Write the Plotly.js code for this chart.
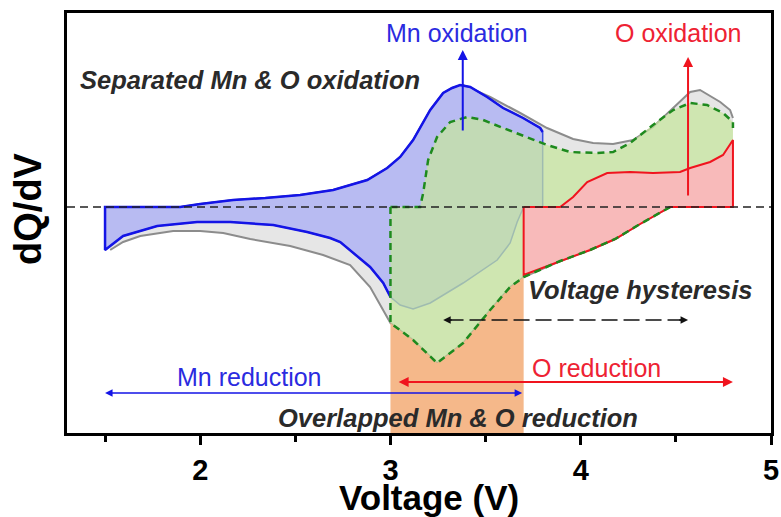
<!DOCTYPE html>
<html>
<head>
<meta charset="utf-8">
<script src="https://cdn.plot.ly/plotly-3.0.1.min.js"></script>
<style>
  html, body { margin: 0; padding: 0; background: #fff; }
  #chart { width: 781px; height: 517px; }
</style>
</head>
<body>
<div id="chart"></div>
<script>
// Total dQ/dV curve (charge branch, then discharge branch)
const grayUpX = [1.5, 1.895, 2.0, 2.173, 2.342, 2.525, 2.699, 2.878, 2.983, 3.051, 3.119, 3.167, 3.209, 3.277, 3.324, 3.382, 3.524, 3.682, 3.823, 3.960, 4.065, 4.170, 4.275, 4.380, 4.486, 4.575, 4.627, 4.680, 4.733, 4.785, 4.80];
const grayUpY = [0, 0, 0.03, 0.07, 0.09, 0.12, 0.17, 0.27, 0.39, 0.50, 0.67, 0.83, 0.97, 1.14, 1.19, 1.22, 1.10, 0.94, 0.79, 0.68, 0.64, 0.63, 0.67, 0.80, 0.99, 1.15, 1.17, 1.11, 1.05, 0.97, 0.89];
const grayLoX = [1.527, 1.595, 1.685, 1.858, 2.0, 2.121, 2.263, 2.473, 2.646, 2.788, 2.893, 2.962, 3.0, 3.119, 3.245, 3.382, 3.524, 3.629, 3.70, 3.892, 4.049, 4.181, 4.312, 4.47];
const grayLoY = [-0.43, -0.35, -0.29, -0.24, -0.24, -0.26, -0.32, -0.39, -0.48, -0.58, -0.80, -1.03, -1.16, -1.33, -1.56, -1.36, -1.03, -0.80, -0.70, -0.54, -0.43, -0.32, -0.17, 0];

// Mn redox contribution
const blueUpX = [1.5, 1.895, 2.0, 2.173, 2.342, 2.525, 2.699, 2.878, 2.983, 3.051, 3.119, 3.167, 3.209, 3.277, 3.324, 3.366, 3.419, 3.508, 3.592, 3.697, 3.787, 3.80];
const blueUpY = [0, 0, 0.03, 0.07, 0.09, 0.12, 0.17, 0.27, 0.39, 0.50, 0.67, 0.83, 0.97, 1.14, 1.19, 1.22, 1.20, 1.10, 0.99, 0.89, 0.79, 0.75];
const blueLoX = [1.5, 1.595, 1.774, 1.984, 2.158, 2.384, 2.562, 2.683, 2.736, 2.788, 2.893, 2.962, 3.0, 3.051, 3.119, 3.209, 3.382, 3.561, 3.629, 3.666, 3.70];
const blueLoY = [-0.43, -0.29, -0.19, -0.15, -0.15, -0.18, -0.25, -0.31, -0.35, -0.43, -0.60, -0.76, -0.90, -0.98, -1.02, -0.96, -0.76, -0.53, -0.36, -0.15, 0];

// Shifted curve (green dashed)
const greenUpX = [3.0, 3.156, 3.172, 3.198, 3.245, 3.314, 3.403, 3.487, 3.592, 3.734, 3.823, 3.944, 4.086, 4.170, 4.260, 4.380, 4.486, 4.575, 4.664, 4.748, 4.80, 4.80];
const greenUpY = [0, 0, 0.14, 0.47, 0.70, 0.85, 0.90, 0.87, 0.79, 0.69, 0.62, 0.55, 0.54, 0.55, 0.64, 0.82, 0.97, 1.04, 1.02, 0.94, 0.85, 0.79];
const greenLoX = [3.0, 3.0, 3.119, 3.245, 3.382, 3.524, 3.629, 3.70, 3.892, 4.049, 4.181, 4.312, 4.47];
const greenLoY = [0, -1.16, -1.33, -1.56, -1.36, -1.03, -0.80, -0.70, -0.54, -0.43, -0.32, -0.17, 0];

// O redox contribution
const redUpX = [3.70, 3.892, 3.960, 4.034, 4.139, 4.260, 4.380, 4.522, 4.575, 4.680, 4.748, 4.80];
const redUpY = [0, 0, 0.10, 0.25, 0.34, 0.35, 0.34, 0.35, 0.39, 0.45, 0.52, 0.67];
const redLoX = [3.70, 3.892, 4.049, 4.181, 4.312, 4.47];
const redLoY = [-0.68, -0.54, -0.43, -0.32, -0.17, 0];

// Axis ticks and titles
const tickVals = [2, 3, 4, 5];
const tickText = ['2', '3', '4', '5'];
const minorTickVals = [1.5, 2.5, 3.5, 4.5];
const xTitle = 'Voltage (V)';
const yTitle = 'dQ/dV';

const X_RANGE = [1.3, 5.0];
const Y_RANGE = [-2.26, 1.94];
const V_END = 4.8;          // upper cut-off voltage
const OVERLAP = [3.0, 3.7]; // overlapped reduction window

const FONT = 'Liberation Sans, Arial, sans-serif';
const BLUE = '#1414e6';
const RED = '#f0141e';
const GREEN = '#1e8a1e';

const rev = a => a.slice().reverse();

// closed outlines
const grayPolyX = grayUpX.concat([V_END], rev(grayLoX));
const grayPolyY = grayUpY.concat([0], rev(grayLoY));

const bluePolyX = blueUpX.concat([blueUpX[blueUpX.length - 1]], rev(blueLoX), [blueUpX[0]]);
const bluePolyY = blueUpY.concat([0], rev(blueLoY), [blueUpY[0]]);

// bold part of the Mn outline: discharge side up to 3.0 V, then the whole charge side
const loLeft = blueLoX.map((x, i) => i).filter(i => blueLoX[i] <= OVERLAP[0]);
const blueEdgeX = rev(loLeft.map(i => blueLoX[i])).concat(blueUpX);
const blueEdgeY = rev(loLeft.map(i => blueLoY[i])).concat(blueUpY);

const greenPolyX = greenUpX.concat([V_END], rev(greenLoX));
const greenPolyY = greenUpY.concat([0], rev(greenLoY));

const redPolyX = redUpX.concat([V_END], rev(redLoX), [redUpX[0]]);
const redPolyY = redUpY.concat([0], rev(redLoY), [redUpY[0]]);

// overlapped window: below the discharge curve between 3.0 and 3.7 V
const ovIdx = greenLoX.map((x, i) => i).filter(i => i > 0 && greenLoX[i] <= OVERLAP[1]);
const orangeX = ovIdx.map(i => greenLoX[i]).concat([OVERLAP[1], OVERLAP[0]]);
const orangeY = ovIdx.map(i => greenLoY[i]).concat([Y_RANGE[0], Y_RANGE[0]]);

const traces = [
  { x: grayPolyX, y: grayPolyY, mode: 'lines', fill: 'toself', fillcolor: '#e6e6e6', line: { width: 0 }, hoverinfo: 'skip' },
  { x: grayUpX, y: grayUpY, mode: 'lines', line: { color: '#8c8c8c', width: 2 } },
  { x: grayLoX, y: grayLoY, mode: 'lines', line: { color: '#8c8c8c', width: 2 } },
  { x: bluePolyX, y: bluePolyY, mode: 'lines', fill: 'toself', fillcolor: '#b8bbf2', line: { color: '#3a4ee0', width: 1.5 } },
  { x: greenPolyX, y: greenPolyY, mode: 'lines', fill: 'toself', fillcolor: 'rgba(198,230,156,0.72)', line: { width: 0 }, hoverinfo: 'skip' },
  { x: blueEdgeX, y: blueEdgeY, mode: 'lines', line: { color: BLUE, width: 2.5 } },
  { x: redPolyX, y: redPolyY, mode: 'lines', fill: 'toself', fillcolor: '#f8baba', line: { color: RED, width: 2 } },
  { x: orangeX, y: orangeY, mode: 'lines', fill: 'toself', fillcolor: '#f5b88a', line: { width: 0 }, hoverinfo: 'skip' },
  { x: greenUpX, y: greenUpY, mode: 'lines', line: { color: GREEN, width: 2.5, dash: '7px,5px' } },
  { x: greenLoX, y: greenLoY, mode: 'lines', line: { color: GREEN, width: 2.5, dash: '7px,5px' } }
];

function arrow(x0, y0, x1, y1, color, width, both) {
  return {
    x: x1, y: y1, ax: x0, ay: y0, xref: 'x', yref: 'y', axref: 'x', ayref: 'y',
    text: '', showarrow: true, arrowhead: 2, arrowsize: 1, arrowwidth: width,
    arrowcolor: color, arrowside: both ? 'end+start' : 'end'
  };
}
function label(x, y, text, color, size, style) {
  return {
    x: x, y: y, xref: 'x', yref: 'y', text: text, showarrow: false,
    font: { family: FONT, size: size, color: color, style: style || 'normal', weight: style === 'italic' ? 'bold' : 'normal' },
    xanchor: 'center', yanchor: 'middle'
  };
}
const axisTitleFont = size => ({ family: FONT, size: size, color: '#000', weight: 'bold' });

const annotations = [
  arrow(3.38, 0.75, 3.38, 1.57, BLUE, 2, false),
  arrow(4.564, 0.10, 4.564, 1.50, RED, 2, false),
  arrow(3.70, -1.86, 1.50, -1.86, BLUE, 1.5, true),
  arrow(3.035, -1.75, 4.80, -1.75, RED, 2, true),
  arrow(3.33, -1.13, 3.277, -1.13, '#111', 1.5, false),
  arrow(4.51, -1.13, 4.564, -1.13, '#111', 1.5, false),
  label(3.35, 1.74, 'Mn oxidation', '#2b2be0', 25),
  label(4.51, 1.74, 'O oxidation', '#ee2233', 25),
  label(2.263, 1.27, 'Separated Mn &amp; O oxidation', '#2a2a2a', 25.5, 'italic'),
  label(4.312, -0.83, 'Voltage hysteresis', '#2a2a2a', 25.5, 'italic'),
  label(3.356, -2.11, 'Overlapped Mn &amp; O reduction', '#2a2a2a', 25.5, 'italic'),
  label(2.258, -1.70, 'Mn reduction', '#2b2be0', 25),
  label(4.081, -1.61, 'O reduction', '#ee2233', 25),
  // axis titles
  { xref: 'paper', yref: 'paper', x: 0.514, y: -0.153, xanchor: 'center', yanchor: 'middle',
    text: xTitle, showarrow: false, font: axisTitleFont(35) },
  { xref: 'paper', yref: 'paper', x: -0.0545, y: 0.535, xanchor: 'center', yanchor: 'middle',
    text: yTitle, textangle: -90, showarrow: false, font: axisTitleFont(38) }
];

const shapes = [
  { type: 'line', xref: 'paper', x0: 0, x1: 1, yref: 'y', y0: 0, y1: 0, layer: 'above',
    line: { color: '#222', width: 1.5, dash: '8px,5px' } },
  { type: 'line', xref: 'x', x0: 3.30, x1: 4.54, yref: 'y', y0: -1.13, y1: -1.13, layer: 'above',
    line: { color: '#111', width: 1.5, dash: '16px,6px' } }
];

const layout = {
  width: 781, height: 517,
  margin: { l: 67, r: 10, t: 13, b: 84 },
  paper_bgcolor: '#fff', plot_bgcolor: '#fff',
  showlegend: false,
  xaxis: {
    range: X_RANGE, showgrid: false, zeroline: false,
    showline: true, mirror: true, linewidth: 3, linecolor: '#000',
    tickmode: 'array', tickvals: tickVals, ticktext: tickText,
    ticks: 'outside', ticklen: 9, tickwidth: 3, tickcolor: '#000',
    minor: { tickmode: 'array', tickvals: minorTickVals, ticks: 'outside', ticklen: 6, tickwidth: 3, tickcolor: '#000', showgrid: false },
    tickfont: { family: FONT, size: 29, color: '#000', weight: 'bold' },
    automargin: false
  },
  yaxis: {
    range: Y_RANGE, showgrid: false, zeroline: false,
    showline: true, mirror: true, linewidth: 3, linecolor: '#000',
    ticks: '', showticklabels: false,
    automargin: false
  },
  shapes: shapes,
  annotations: annotations
};

Plotly.newPlot('chart', traces, layout, { displayModeBar: false, staticPlot: true });
</script>
</body>
</html>
